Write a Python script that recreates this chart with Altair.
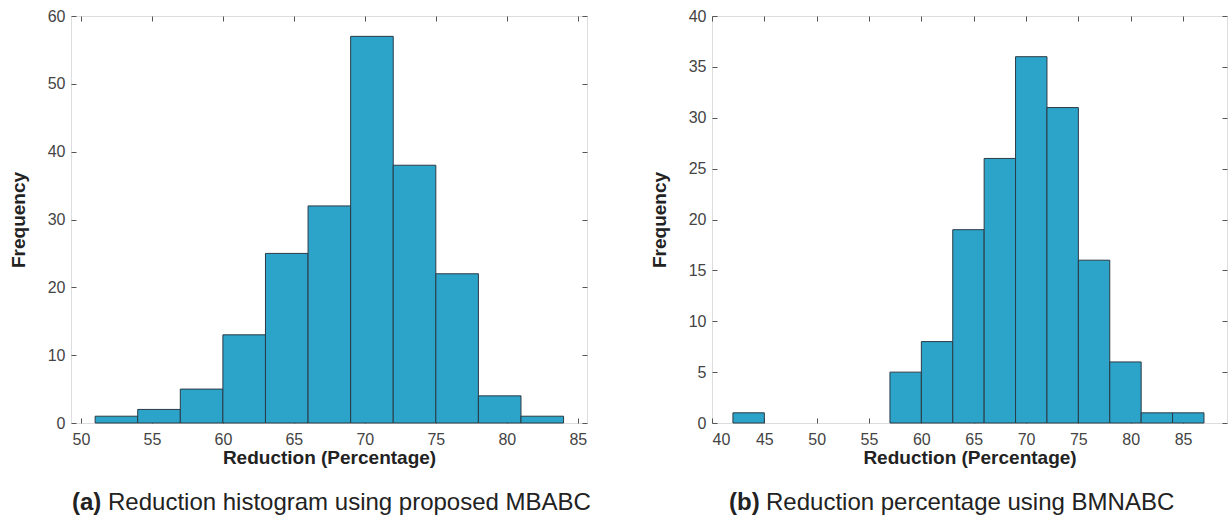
import altair as alt
import pandas as pd

BIN_WIDTH = 3

left_bin_starts = [51, 54, 57, 60, 63, 66, 69, 72, 75, 78, 81]
left_counts = [1, 2, 5, 13, 25, 32, 57, 38, 22, 4, 1]
left_x_ticks = [50, 55, 60, 65, 70, 75, 80, 85]
left_y_ticks = [0, 10, 20, 30, 40, 50, 60]

right_bin_starts = [42, 45, 48, 51, 54, 57, 60, 63, 66, 69, 72, 75, 78, 81, 84]
right_counts = [1, 0, 0, 0, 0, 5, 8, 19, 26, 36, 31, 16, 6, 1, 1]
right_x_ticks = [40, 45, 50, 55, 60, 65, 70, 75, 80, 85]
right_y_ticks = [0, 5, 10, 15, 20, 25, 30, 35, 40]

x_title = "Reduction (Percentage)"
y_title = "Frequency"
left_caption = ["(a)", "Reduction histogram using proposed MBABC"]
right_caption = ["(b)", "Reduction percentage using BMNABC"]

FONT = "Liberation Sans"
BAR_FILL = "#2ca4ca"
BAR_EDGE = "#2b3a45"
FRAME = "#555555"
LABEL = "#444444"
TEXT = "#222222"


def panel(starts, counts, xdom, xticks, ydom, yticks, w, h, caption, cap_x, bold_w):
    df = pd.DataFrame({"start": starts, "count": counts})
    df["end"] = df["start"] + BIN_WIDTH
    df = df[df["count"] > 0]
    bars = alt.Chart(df).mark_rect(
        fill=BAR_FILL, stroke=BAR_EDGE, strokeWidth=1
    ).encode(
        x=alt.X("start:Q",
                scale=alt.Scale(domain=xdom, nice=False, zero=False),
                axis=alt.Axis(values=xticks, title=x_title, ticks=False, domain=False,
                              grid=True, gridColor=FRAME, gridWidth=1,
                              gridDash=[5, h - 10, 5, 2000],
                              labelFont=FONT, labelFontSize=16, labelColor=LABEL,
                              labelPadding=8, titleFont=FONT, titleFontSize=19,
                              titleFontWeight="bold", titleColor=TEXT, titlePadding=1)),
        x2="end:Q",
        y=alt.Y("count:Q",
                scale=alt.Scale(domain=ydom, nice=False),
                axis=alt.Axis(values=yticks, title=y_title, ticks=False, domain=False,
                              grid=True, gridColor=FRAME, gridWidth=1,
                              gridDash=[5, w - 10, 5, 2000],
                              labelFont=FONT, labelFontSize=16, labelColor=LABEL,
                              labelPadding=6, titleFont=FONT, titleFontSize=19,
                              titleFontWeight="bold", titleColor=TEXT, titlePadding=19)),
        y2=alt.datum(0),
    )
    cap_bold = alt.Chart(pd.DataFrame({"t": [caption[0]]})).mark_text(
        align="left", baseline="middle", font=FONT, fontSize=24,
        fontWeight="bold", color=TEXT
    ).encode(x=alt.value(cap_x), y=alt.value(h + 80), text="t:N")
    cap_rest = alt.Chart(pd.DataFrame({"t": [caption[1]]})).mark_text(
        align="left", baseline="middle", font=FONT, fontSize=24,
        fontWeight="normal", color=TEXT
    ).encode(x=alt.value(cap_x + bold_w), y=alt.value(h + 80), text="t:N")
    return alt.layer(bars, cap_bold, cap_rest).properties(width=w, height=h)


left = panel(left_bin_starts, left_counts, [49.3, 85.65], left_x_ticks,
             [0, 60], left_y_ticks, 516, 407, left_caption, 1, 36)
right = panel(right_bin_starts, right_counts, [40, 89.2], right_x_ticks,
              [0, 40], right_y_ticks, 515, 407, right_caption, 17, 37)

chart = alt.hconcat(left, right, spacing=125, bounds="flush").properties(
    padding={"left": 8, "top": 7, "right": 0, "bottom": 0}
).configure_view(stroke=FRAME, strokeWidth=1).configure(background="white")

chart.save("out.html", embed_options={"renderer": "svg", "actions": False})
